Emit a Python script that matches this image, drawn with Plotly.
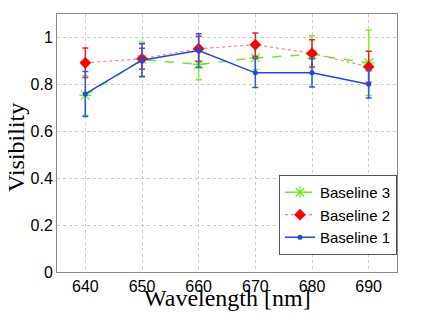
import plotly.graph_objects as go

# ---- data ----
wavelength = [640, 650, 660, 670, 680, 690]

b1_vis = [0.759, 0.903, 0.944, 0.849, 0.849, 0.800]
b1_err = [0.096, 0.070, 0.072, 0.062, 0.060, 0.058]

b2_vis = [0.892, 0.909, 0.952, 0.969, 0.932, 0.875]
b2_err = [0.063, 0.045, 0.053, 0.050, 0.058, 0.066]

b3_vis = [0.753, 0.906, 0.885, 0.913, 0.927, 0.892]
b3_err = [0.085, 0.075, 0.065, 0.050, 0.080, 0.140]

x_ticks = [640, 650, 660, 670, 680, 690]
y_ticks = [0, 0.2, 0.4, 0.6, 0.8, 1]
y_tick_text = ["0", "0.2", "0.4", "0.6", "0.8", "1"]


def err(arr, color):
    return dict(type="data", array=arr, visible=True, color=color,
                thickness=1.5, width=3)


fig = go.Figure()

fig.add_trace(go.Scatter(
    x=wavelength, y=b3_vis, name="Baseline 3", mode="lines+markers",
    line=dict(color="#66ee22", width=1.5, dash="dash"),
    marker=dict(symbol="asterisk-open", size=10, color="#66ee22",
                line=dict(color="#66ee22", width=1.2)),
    error_y=err(b3_err, "#77ee33"),
))
fig.add_trace(go.Scatter(
    x=wavelength, y=b2_vis, name="Baseline 2", mode="lines+markers",
    line=dict(color="#ff8080", width=1.2, dash="dot"),
    marker=dict(symbol="diamond", size=9, color="#ff0000"),
    error_y=err(b2_err, "#ee2222"),
))
fig.add_trace(go.Scatter(
    x=wavelength, y=b1_vis, name="Baseline 1", mode="lines+markers",
    line=dict(color="#2244ee", width=1.5),
    marker=dict(symbol="circle", size=5, color="#2244ee"),
    error_y=err(b1_err, "#3355ee"),
))

axis_common = dict(
    showgrid=True, gridcolor="#cccccc", griddash="dot", gridwidth=1,
    showline=True, linecolor="#888888", linewidth=1, mirror=True,
    ticks="", zeroline=False, automargin=False,
    tickfont=dict(family="Liberation Sans, Arial", size=16, color="black"),
)

title_font = dict(family="Liberation Serif, Times New Roman", size=24, color="black")

# page body has an 8px margin, so the figure is sized to fit inside it
fig.update_layout(
    width=424, height=311,
    margin=dict(l=49, r=35, t=6, b=47),
    plot_bgcolor="white", paper_bgcolor="white",
    xaxis=dict(range=[635, 695], tickvals=x_ticks, **axis_common),
    yaxis=dict(range=[0, 1.1], tickvals=y_ticks, ticktext=y_tick_text,
               **axis_common),
    legend=dict(x=1, xanchor="right", y=0.066, yanchor="bottom",
                bgcolor="white", bordercolor="#555555", borderwidth=1,
                font=dict(family="Liberation Sans, Arial", size=15, color="black"),
                tracegroupgap=0, itemwidth=30),
    showlegend=True,
    annotations=[
        dict(text="Wavelength [nm]", xref="paper", yref="paper",
             x=0.5, y=-0.10, xanchor="center", yanchor="middle",
             showarrow=False, font=title_font),
        dict(text="Visibility", xref="paper", yref="paper",
             x=-0.121, y=0.484, xanchor="center", yanchor="middle",
             textangle=-90, showarrow=False, font=title_font),
    ],
)

fig.write_html("out.html")
